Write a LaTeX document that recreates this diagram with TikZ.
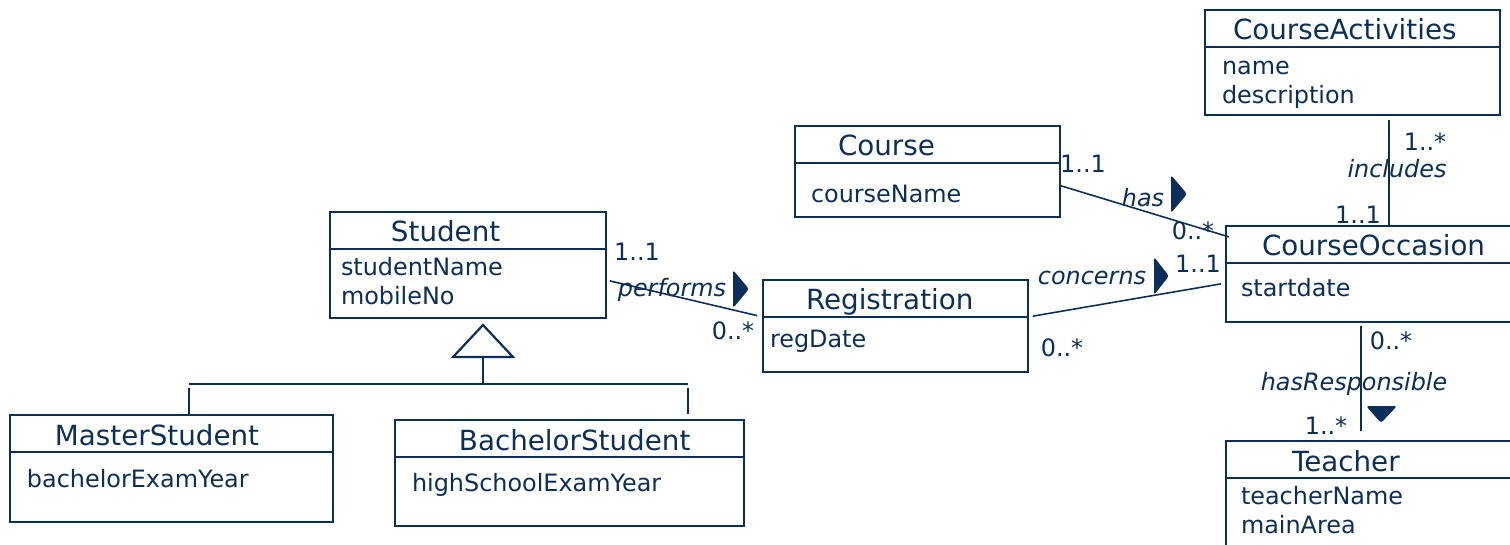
\documentclass[tikz,border=0pt]{standalone}
\usepackage{fontspec}
\setmainfont{DejaVu Sans}
\usetikzlibrary{positioning}
\definecolor{umlblue}{RGB}{12,46,90}
\hyphenpenalty=10000

\begin{document}
\begin{tikzpicture}[x=0.02cm, y=-0.02cm,
    every node/.style={text=umlblue},
    classhead/.style={draw=umlblue, line width=1.25pt, rectangle, anchor=north west,
        outer sep=0pt, inner ysep=0pt, text height=0.60cm, text depth=0.14cm,
        align=left, font=\fontsize{15.8pt}{18pt}\selectfont},
    classbody/.style={draw=umlblue, line width=1.25pt, rectangle, anchor=north west,
        outer sep=0pt, inner ysep=0pt, align=left,
        font=\fontsize{13.6pt}{16.5pt}\selectfont},
    assoc/.style={draw=umlblue, line width=0.9pt},
    genline/.style={draw=umlblue, line width=1.25pt},
    mult/.style={font=\fontsize{13.6pt}{16pt}\selectfont},
    role/.style={font=\fontsize{13.6pt}{16pt}\selectfont\itshape},
    navarrow/.style={fill=umlblue, rounded corners=1.5pt}]

    \useasboundingbox (0,0) rectangle (1510,544);
    \clip (0,0) rectangle (1510,544);

    % classes
    \node[classhead, inner xsep=1.22cm, text width=3.08cm] (studenttitle) at (330,212) {Student};
    \node[classbody, inner xsep=0.22cm, text width=5.08cm, text height=0.54cm, text depth=0.84cm]
        (studentattr) at (studenttitle.south west) {studentName\\mobileNo};

    \node[classhead, inner xsep=0.86cm, text width=3.58cm] (regtitle) at (763,280) {Registration};
    \node[classbody, inner xsep=0.14cm, text width=5.02cm, text height=0.62cm, text depth=0.48cm]
        (regattr) at (regtitle.south west) {regDate};

    \node[classhead, inner xsep=0.86cm, text width=3.58cm] (coursetitle) at (795,126) {Course};
    \node[classbody, inner xsep=0.32cm, text width=4.66cm, text height=0.79cm, text depth=0.29cm]
        (courseattr) at (coursetitle.south west) {courseName};

    \node[classhead, inner xsep=0.56cm, text width=4.78cm] (catitle) at (1205,10) {CourseActivities};
    \node[classbody, inner xsep=0.34cm, text width=5.22cm, text height=0.56cm, text depth=0.80cm]
        (caattr) at (catitle.south west) {name\\description};

    \node[classhead, inner xsep=0.72cm, text width=5.08cm] (cotitle) at (1226,226) {CourseOccasion};
    \node[classbody, inner xsep=0.30cm, text width=5.92cm, text height=0.68cm, text depth=0.50cm]
        (coattr) at (cotitle.south west) {startdate};

    \node[classhead, inner xsep=1.32cm, text width=3.88cm] (teachertitle) at (1226,441) {Teacher};
    \node[classbody, inner xsep=0.30cm, text width=5.92cm, text height=0.53cm, text depth=1.31cm]
        (teacherattr) at (teachertitle.south west) {teacherName\\mainArea};

    \node[classhead, inner xsep=0.90cm, text width=4.66cm] (mstitle) at (10,415) {MasterStudent};
    \node[classbody, inner xsep=0.34cm, text width=5.78cm, text height=0.72cm, text depth=0.68cm]
        (msattr) at (mstitle.south west) {bachelorExamYear};

    \node[classhead, inner xsep=1.28cm, text width=4.42cm] (bstitle) at (395,420) {BachelorStudent};
    \node[classbody, inner xsep=0.34cm, text width=6.30cm, text height=0.70cm, text depth=0.68cm]
        (bsattr) at (bstitle.south west) {highSchoolExamYear};

    % generalization
    \coordinate (gentip) at (483,325);
    \coordinate (genbar) at (483,384);
    \coordinate (msdrop) at (189,384);
    \coordinate (bsdrop) at (688,384);
    \draw[genline] (gentip) -- ++(-30,32) -- ++(60,0) -- cycle;
    \draw[genline] (gentip) ++(0,32) -- (genbar);
    \draw[genline] (msdrop) -- (bsdrop);
    \draw[genline, shorten <=0.08cm] (msdrop) -- (msdrop |- mstitle.north);
    \draw[genline, shorten <=0.08cm, shorten >=0.12cm] (bsdrop) -- (bsdrop |- bstitle.north);

    % associations
    \draw[assoc, shorten <=0.08cm, shorten >=0.12cm]
        ([yshift=0.07cm]studentattr.east) -- (regtitle.south west);
    \draw[assoc, shorten <=0.1cm, shorten >=0.1cm]
        (regattr.north east) -- ([yshift=0.19cm]coattr.west);
    \draw[assoc, shorten >=-0.06cm]
        ([yshift=0.09cm]courseattr.east) -- ([yshift=0.17cm]cotitle.west);
    \draw[assoc, shorten <=0.1cm] (caattr.south -| cotitle.north) -- (cotitle.north);
    \draw[assoc, shorten <=0.08cm, shorten >=0.2cm]
        ([xshift=-0.56cm]coattr.south) -- ([xshift=-0.56cm]teachertitle.north);

    % labels
    \node[mult] (m1) at (637,252) {1..1};
    \node[role] (r1) at (672,290) {performs};
    \node[mult] (m2) at (733,331) {0..*};
    \fill[navarrow] (733,270) -- (749,289) -- (733,308) -- cycle;

    \node[role] (r2) at (1092,278) {concerns};
    \node[mult] (m3) at (1198,264) {1..1};
    \node[mult] (m4) at (1062,348) {0..*};
    \fill[navarrow] (1154,257) -- (1169,276) -- (1154,295) -- cycle;

    \node[mult] (m5) at (1083,164) {1..1};
    \node[role] (r3) at (1143,198) {has};
    \node[mult] (m6) at (1193,231) {0..*};
    \fill[navarrow] (1171,175) -- (1187,194) -- (1171,213) -- cycle;

    \node[mult] (m7) at (1425,142) {1..*};
    \node[role] (r4) at (1397,169) {includes};
    \node[mult] (m8) at (1358,215) {1..1};

    \node[mult] (m9) at (1391,341) {0..*};
    \node[role] (r5) at (1354,384) {hasResponsible};
    \node[mult] (m10) at (1326,426) {1..*};
    \fill[navarrow] (1366,406) -- (1397,406) -- (1381,423) -- cycle;
\end{tikzpicture}
\end{document}
